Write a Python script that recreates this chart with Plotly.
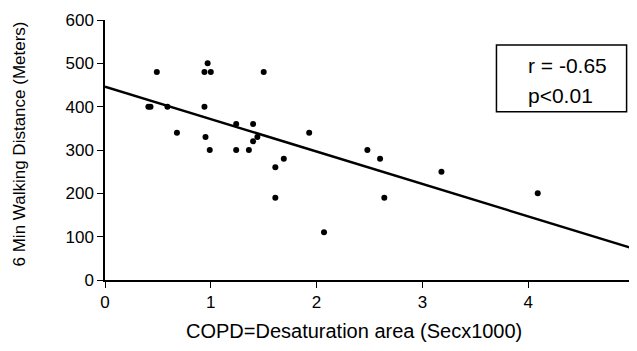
import plotly.graph_objects as go

# Data
desat_area = [0.41, 0.43, 0.49, 0.59, 0.68, 0.94, 0.97, 1.00, 0.94, 0.95,
              0.99, 1.24, 1.24, 1.36, 1.40, 1.40, 1.44, 1.50, 1.69, 1.61,
              1.61, 1.93, 2.07, 2.48, 2.60, 2.64, 3.18, 4.09]
walk_dist = [400, 400, 480, 400, 340, 480, 500, 480, 400, 330,
             300, 360, 300, 300, 360, 320, 330, 480, 280, 260,
             190, 340, 110, 300, 280, 190, 250, 200]

fit_x = [0, 5]
fit_y = [446, 72]

x_ticks = [0, 1, 2, 3, 4, 5]
y_ticks = [0, 100, 200, 300, 400, 500, 600]

FONT = "Liberation Sans, Arial, sans-serif"

fig = go.Figure()
fig.add_trace(go.Scatter(x=fit_x, y=fit_y, mode="lines",
                         line=dict(color="black", width=2.5),
                         showlegend=False, hoverinfo="skip", cliponaxis=False))
fig.add_trace(go.Scatter(x=desat_area, y=walk_dist, mode="markers",
                         marker=dict(color="black", size=6),
                         showlegend=False))

axis_common = dict(ticks="outside", ticklen=6, tickwidth=1.3, tickcolor="black",
                   showline=True, linecolor="black", linewidth=1.5,
                   showgrid=False, zeroline=False, automargin=False,
                   tickfont=dict(size=17), ticklabeloverflow="allow")

# the page body adds an 8px offset, so the figure is 8px smaller on the top/left
fig.update_layout(
    width=629, height=343,
    margin=dict(l=97, r=3, t=12, b=71),
    paper_bgcolor="white", plot_bgcolor="white",
    font=dict(family=FONT, color="black", size=16),
    xaxis=dict(range=[0, 5], tickvals=x_ticks, **axis_common),
    yaxis=dict(range=[0, 600], tickvals=y_ticks, **axis_common),
)

# axis titles
fig.add_annotation(xref="paper", yref="paper", x=0.4707, y=-0.196,
                   xanchor="center", yanchor="middle", showarrow=False,
                   text="COPD=Desaturation area (Secx1000)", font=dict(size=20))
fig.add_annotation(xref="paper", yref="paper", x=-0.1607, y=0.525,
                   xanchor="center", yanchor="middle", showarrow=False,
                   textangle=-90,
                   text="6 Min Walking Distance (Meters)", font=dict(size=17))

# statistics box
fig.add_shape(type="rect", xref="paper", yref="paper",
              x0=0.740, x1=0.986, y0=0.647, y1=0.904,
              line=dict(color="black", width=1.5), fillcolor="white")
fig.add_annotation(xref="paper", yref="paper", x=0.795, y=0.826,
                   xanchor="left", yanchor="middle", showarrow=False,
                   text="r = -0.65", font=dict(size=21))
fig.add_annotation(xref="paper", yref="paper", x=0.795, y=0.708,
                   xanchor="left", yanchor="middle", showarrow=False,
                   text="p&lt;0.01", font=dict(size=21))

fig.write_html("out.html")
